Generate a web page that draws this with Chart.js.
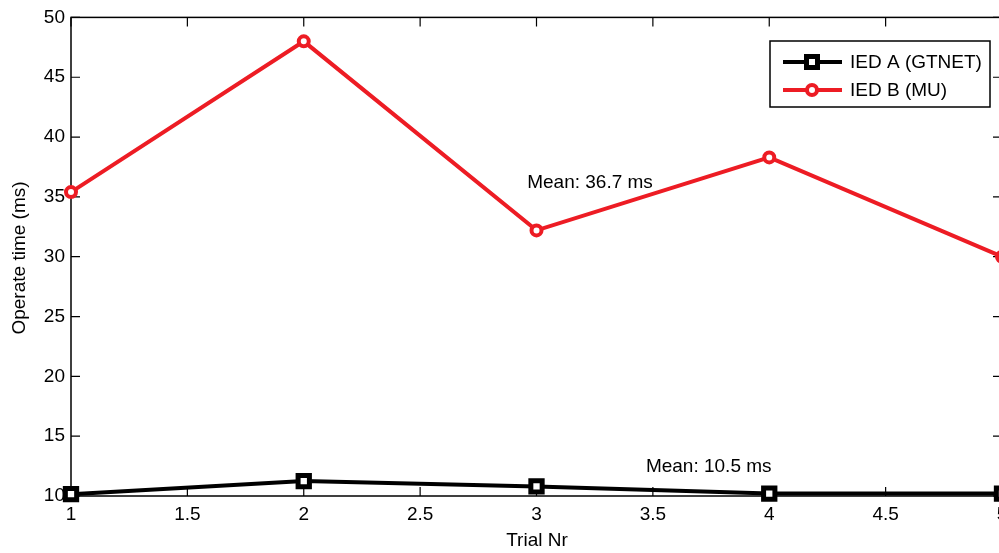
<!DOCTYPE html>
<html lang="en">
<head>
  <meta charset="UTF-8">
  <title>Operate time</title>
  <script src="https://cdn.jsdelivr.net/npm/chart.js"></script>
  <style>
    html, body { margin: 0; background: #fff; overflow: hidden; }
    canvas { display: block; }
  </style>
</head>
<body>
  <canvas id="grafico" width="1015" height="553"></canvas>
  <script>
    // data
    const trials = [1, 2, 3, 4, 5];
    const iedA = [10.15, 11.25, 10.8, 10.2, 10.2];
    const iedB = [35.4, 48.0, 32.2, 38.3, 30.0];
    const seriesNames = ['IED A (GTNET)', 'IED B (MU)'];
    const xTicks = [1, 1.5, 2, 2.5, 3, 3.5, 4, 4.5, 5];
    const yTicks = [10, 15, 20, 25, 30, 35, 40, 45, 50];
    const meanNotes = [
      { text: 'Mean: 36.7 ms', x: 2.96, y: 36.2 },
      { text: 'Mean: 10.5 ms', x: 3.47, y: 12.45 }
    ];

    const FAMILY = '"Liberation Sans", Arial, sans-serif';
    const FONT = '19px ' + FAMILY;
    const RED = '#ed1c24';

    // box, inward ticks, legend, titles and notes
    const matlabLook = {
      id: 'matlabLook',
      beforeDatasetsDraw(chart) {
        const { ctx, chartArea: a, scales: { x, y } } = chart;
        ctx.save();
        ctx.strokeStyle = '#000';
        ctx.lineWidth = 1.5;
        ctx.strokeRect(a.left, a.top, a.right - a.left, a.bottom - a.top);
        ctx.lineWidth = 1.2;
        ctx.beginPath();
        xTicks.forEach(v => {
          const px = x.getPixelForValue(v);
          ctx.moveTo(px, a.bottom); ctx.lineTo(px, a.bottom - 9);
          ctx.moveTo(px, a.top); ctx.lineTo(px, a.top + 9);
        });
        yTicks.forEach(v => {
          const py = y.getPixelForValue(v);
          ctx.moveTo(a.left, py); ctx.lineTo(a.left + 9, py);
          ctx.moveTo(a.right, py); ctx.lineTo(a.right - 9, py);
        });
        ctx.stroke();
        ctx.restore();
      },
      afterDraw(chart) {
        const { ctx, scales: { x, y } } = chart;
        ctx.save();
        ctx.font = FONT;
        ctx.fillStyle = '#000';

        // notes
        ctx.textAlign = 'left';
        ctx.textBaseline = 'middle';
        meanNotes.forEach(n => {
          ctx.fillText(n.text, x.getPixelForValue(n.x), y.getPixelForValue(n.y));
        });

        // axis titles
        ctx.textAlign = 'center';
        ctx.fillText('Trial Nr', 537, 541);
        ctx.save();
        ctx.translate(20, 258);
        ctx.rotate(-Math.PI / 2);
        ctx.fillText('Operate time (ms)', 0, 0);
        ctx.restore();

        // legend
        ctx.fillStyle = '#fff';
        ctx.fillRect(770, 41, 220, 66);
        ctx.strokeStyle = '#000';
        ctx.lineWidth = 1.5;
        ctx.strokeRect(770, 41, 220, 66);
        chart.data.datasets.forEach((ds, i) => {
          const ly = 62 + i * 28;
          ctx.strokeStyle = ds.borderColor;
          ctx.lineWidth = 4;
          ctx.beginPath();
          ctx.moveTo(783, ly); ctx.lineTo(842, ly);
          ctx.stroke();
          ctx.fillStyle = '#fff';
          ctx.beginPath();
          if (ds.pointStyle === 'rect') {
            ctx.lineWidth = 5;
            ctx.rect(806.5, ly - 5.5, 11, 11);
          } else {
            ctx.lineWidth = 4;
            ctx.arc(812, ly, 5, 0, Math.PI * 2);
          }
          ctx.fill();
          ctx.stroke();
          ctx.fillStyle = '#000';
          ctx.textAlign = 'left';
          ctx.fillText(ds.label, 850, ly + 1);
        });
        ctx.restore();
      }
    };

    new Chart(document.getElementById('grafico'), {
      type: 'line',
      data: {
        datasets: [
          {
            label: seriesNames[0],
            data: trials.map((t, i) => ({ x: t, y: iedA[i] })),
            borderColor: '#000',
            backgroundColor: '#fff',
            borderWidth: 4,
            pointStyle: 'rect',
            pointRadius: 8,
            pointBorderWidth: 5,
            pointBackgroundColor: '#fff',
            pointBorderColor: '#000',
            clip: false
          },
          {
            label: seriesNames[1],
            data: trials.map((t, i) => ({ x: t, y: iedB[i] })),
            borderColor: RED,
            backgroundColor: '#fff',
            borderWidth: 4,
            pointStyle: 'circle',
            pointRadius: 5,
            pointBorderWidth: 4,
            pointBackgroundColor: '#fff',
            pointBorderColor: RED,
            clip: false
          }
        ]
      },
      options: {
        responsive: false,
        animation: false,
        layout: { padding: { top: 14, right: 4, left: 0, bottom: 0 } },
        plugins: { legend: { display: false }, tooltip: { enabled: false } },
        scales: {
          x: {
            type: 'linear',
            min: 1, max: 5,
            afterFit(s) { s.height = 57; },
            afterBuildTicks(s) { s.ticks = xTicks.map(v => ({ value: v })); },
            grid: { display: false, drawTicks: false },
            border: { display: false },
            ticks: {
              color: '#000', font: { family: FAMILY, size: 19 }, padding: 7,
              maxRotation: 0, autoSkip: false, callback: v => String(v)
            }
          },
          y: {
            min: 10, max: 50,
            afterFit(s) { s.width = 71; },
            afterBuildTicks(s) { s.ticks = yTicks.map(v => ({ value: v })); },
            grid: { display: false, drawTicks: false },
            border: { display: false },
            ticks: { color: '#000', font: { family: FAMILY, size: 19 }, padding: 6, callback: v => String(v) }
          }
        }
      },
      plugins: [matlabLook]
    });
  </script>
</body>
</html>
